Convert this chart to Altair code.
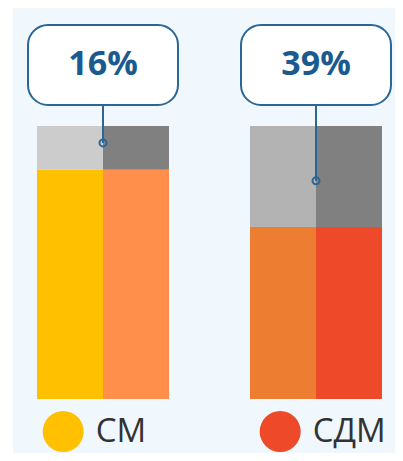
import altair as alt
import pandas as pd

# ---- data ----
groups = ["СМ", "СДМ"]
bottom_values = [84, 63]
top_values = [16, 37]
labels = ["16%", "39%"]
marker_values = [93.8, 79.9]      # where the leader line ends inside the grey part
box_top = [137.0, 137.0]
box_bottom = [107.7, 107.7]
label_y = [122.3, 122.3]

sides = ["L", "R"]
seg_keys = {
    "СМ": {("L", 0): "СМ", ("R", 0): "СМ-b", ("L", 1): "СМ-c", ("R", 1): "СМ-d"},
    "СДМ": {("L", 0): "СДМ-a", ("R", 0): "СДМ", ("L", 1): "СДМ-c", ("R", 1): "СДМ-d"},
}
color_domain = ["СМ", "СМ-b", "СМ-c", "СМ-d", "СДМ-a", "СДМ", "СДМ-c", "СДМ-d"]
color_range = ["#FFC000", "#FF8F4A", "#CCCCCC", "#808080",
               "#ED7D31", "#EE4928", "#B3B3B3", "#808080"]

rows = []
for g, b, t in zip(groups, bottom_values, top_values):
    for s in sides:
        rows.append({"group": g, "side": s, "start": 0, "end": b, "key": seg_keys[g][(s, 0)]})
        rows.append({"group": g, "side": s, "start": b, "end": b + t, "key": seg_keys[g][(s, 1)]})
bars_df = pd.DataFrame(rows)

ann_df = pd.DataFrame({
    "group": groups, "label": labels, "marker": marker_values,
    "box_top": box_top, "box_bottom": box_bottom, "label_y": label_y,
})

xscale = alt.Scale(domain=groups, paddingInner=0.3803, paddingOuter=0.08685, align=0.6486)
yscale = alt.Scale(domain=[-19.78, 143.22], nice=False, zero=False)
line_color = "#2A6796"
text_color = "#1B5A8E"

bars = alt.Chart(bars_df).mark_bar().encode(
    x=alt.X("group:N", scale=xscale, axis=None, sort=groups),
    xOffset=alt.XOffset("side:N", scale=alt.Scale(paddingInner=0, paddingOuter=0)),
    y=alt.Y("start:Q", scale=yscale, axis=None),
    y2="end:Q",
    color=alt.Color(
        "key:N",
        scale=alt.Scale(domain=color_domain, range=color_range),
        legend=alt.Legend(
            values=["СМ", "СДМ"], title=None, orient="none", direction="horizontal",
            legendX=29.7, legendY=403, symbolType="circle", symbolSize=1681,
            symbolStrokeWidth=0, labelFontSize=33, labelFont="Open Sans",
            labelColor="#333333", labelOffset=12, columnPadding=113, padding=0,
        ),
    ),
)

base = alt.Chart(ann_df).encode(x=alt.X("group:N", scale=xscale, axis=None, sort=groups))

rule = base.mark_rule(color=line_color, strokeWidth=2).encode(
    y=alt.Y("box_bottom:Q", scale=yscale, axis=None), y2="marker:Q"
)
ring = base.mark_point(shape="circle", filled=False, size=49, strokeWidth=2,
                       color=line_color, opacity=1).encode(
    y=alt.Y("marker:Q", scale=yscale, axis=None)
)
box = base.mark_bar(width=150, cornerRadius=20, fill="white", stroke=line_color,
                    strokeWidth=2).encode(
    y=alt.Y("box_top:Q", scale=yscale, axis=None), y2="box_bottom:Q"
)
text = base.mark_text(font="Open Sans", fontSize=34, fontWeight="bold",
                      color=text_color, baseline="middle", align="center").encode(
    y=alt.Y("label_y:Q", scale=yscale, axis=None), text="label:N"
)

chart = alt.layer(bars, rule, ring, box, text).properties(
    width=382, height=445, autosize="none",
    padding={"left": 5, "top": 0, "right": 0, "bottom": 0},
    background="white",
).configure_view(fill="#F0F7FD", strokeWidth=0)

chart.save("out.html", embed_options={"renderer": "svg", "actions": False})
